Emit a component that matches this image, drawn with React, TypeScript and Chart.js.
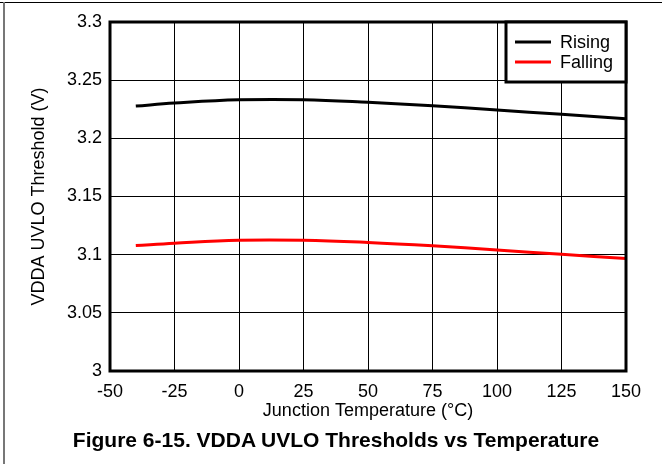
import React, { useEffect, useRef } from "react";
import { Chart, registerables } from "chart.js";

Chart.register(...registerables);

const temperatures = [-40, -25, 0, 25, 50, 75, 100, 125, 150];
const rising = [3.2277, 3.2303, 3.2331, 3.2332, 3.231, 3.228, 3.2243, 3.2206, 3.2169];
const falling = [3.1078, 3.1099, 3.1124, 3.1124, 3.1105, 3.1076, 3.104, 3.1003, 3.0966];
const xTicks = [-50, -25, 0, 25, 50, 75, 100, 125, 150];
const yTickLabels = ["3", "3.05", "3.1", "3.15", "3.2", "3.25", "3.3"];
const seriesNames = ["Rising", "Falling"];
const seriesColors = ["#000000", "#ff0000"];

const FONT = "'Liberation Sans', Arial, sans-serif";

const framePlugin = {
  id: "frameAndLegend",
  afterDatasetsDraw(chart: any) {
    const { ctx, chartArea } = chart;
    const { left, top, right, bottom } = chartArea;
    ctx.save();
    ctx.strokeStyle = "#000";
    ctx.lineWidth = 3;
    ctx.strokeRect(left, top, right - left, bottom - top);
    const bw = 120;
    const bh = 60;
    const bx = right - bw;
    const by = top;
    ctx.fillStyle = "#fff";
    ctx.fillRect(bx, by, bw, bh);
    ctx.strokeRect(bx, by, bw, bh);
    ctx.font = `18px ${FONT}`;
    ctx.textBaseline = "middle";
    ctx.textAlign = "left";
    chart.data.datasets.forEach((ds: any, i: number) => {
      const y = by + 20 + i * 20;
      ctx.strokeStyle = ds.borderColor;
      ctx.lineWidth = 3;
      ctx.beginPath();
      ctx.moveTo(bx + 9, y);
      ctx.lineTo(bx + 45, y);
      ctx.stroke();
      ctx.fillStyle = "#000";
      ctx.fillText(ds.label, bx + 54, y + 1);
    });
    ctx.restore();
  },
};

export default function App() {
  const ref = useRef<HTMLCanvasElement>(null);
  useEffect(() => {
    if (!ref.current) return;
    const chart = new Chart(ref.current, {
      type: "line",
      data: {
        datasets: [rising, falling].map((vals, i) => ({
          label: seriesNames[i],
          data: temperatures.map((t, j) => ({ x: t, y: vals[j] })),
          borderColor: seriesColors[i],
          borderWidth: 3,
          pointRadius: 0,
          tension: 0.4,
          fill: false,
        })),
      },
      options: {
        responsive: false,
        animation: false,
        layout: { padding: { top: 22, right: 36, bottom: 33, left: 0 } },
        plugins: { legend: { display: false }, tooltip: { enabled: false } },
        scales: {
          x: {
            type: "linear",
            min: -50,
            max: 150,
            afterBuildTicks: (s: any) => {
              s.ticks = xTicks.map((v) => ({ value: v }));
            },
            afterFit: (s: any) => {
              s.height = 60;
            },
            grid: { color: "#000", lineWidth: 1, drawTicks: false },
            border: { display: false },
            ticks: {
              color: "#000",
              font: { size: 18, family: FONT },
              padding: 10,
              maxRotation: 0,
              autoSkip: false,
            },
            title: {
              display: true,
              text: "Junction Temperature (°C)",
              color: "#000",
              font: { size: 18, family: FONT },
              padding: { top: 0, bottom: 9 },
            },
          },
          y: {
            type: "linear",
            min: 3,
            max: 3.3,
            afterBuildTicks: (s: any) => {
              s.ticks = yTickLabels.map((l) => ({ value: parseFloat(l) }));
            },
            afterFit: (s: any) => {
              s.width = 110;
            },
            grid: { color: "#000", lineWidth: 1, drawTicks: false },
            border: { display: false },
            ticks: {
              color: "#000",
              font: { size: 18, family: FONT },
              padding: 8,
              autoSkip: false,
              callback: (v: any) => {
                const idx = yTickLabels.findIndex((l) => Math.abs(parseFloat(l) - v) < 1e-6);
                return idx >= 0 ? yTickLabels[idx] : "";
              },
            },
            title: {
              display: true,
              text: "VDDA UVLO Threshold (V)",
              color: "#000",
              font: { size: 18, family: FONT },
              padding: { top: 28, bottom: 0 },
            },
          },
        },
      },
      plugins: [framePlugin],
    });
    return () => chart.destroy();
  }, []);

  return (
    <div
      style={{
        position: "fixed",
        left: 0,
        top: 0,
        width: 662,
        height: 464,
        background: "#fff",
        overflow: "hidden",
      }}
    >
      <canvas ref={ref} width={662} height={464} style={{ position: "absolute", left: 0, top: 0 }} />
      <div style={{ position: "absolute", left: 0, top: 2, width: 662, height: 1, background: "#000" }} />
      <div style={{ position: "absolute", left: 3, top: 2, width: 2, height: 462, background: "#777" }} />
      <div
        style={{
          position: "absolute",
          left: 5,
          width: 662,
          top: 428,
          lineHeight: "24px",
          textAlign: "center",
          fontFamily: FONT,
          fontWeight: "bold",
          fontSize: 21,
          color: "#000",
        }}
      >
        Figure 6-15. VDDA UVLO Thresholds vs Temperature
      </div>
    </div>
  );
}
